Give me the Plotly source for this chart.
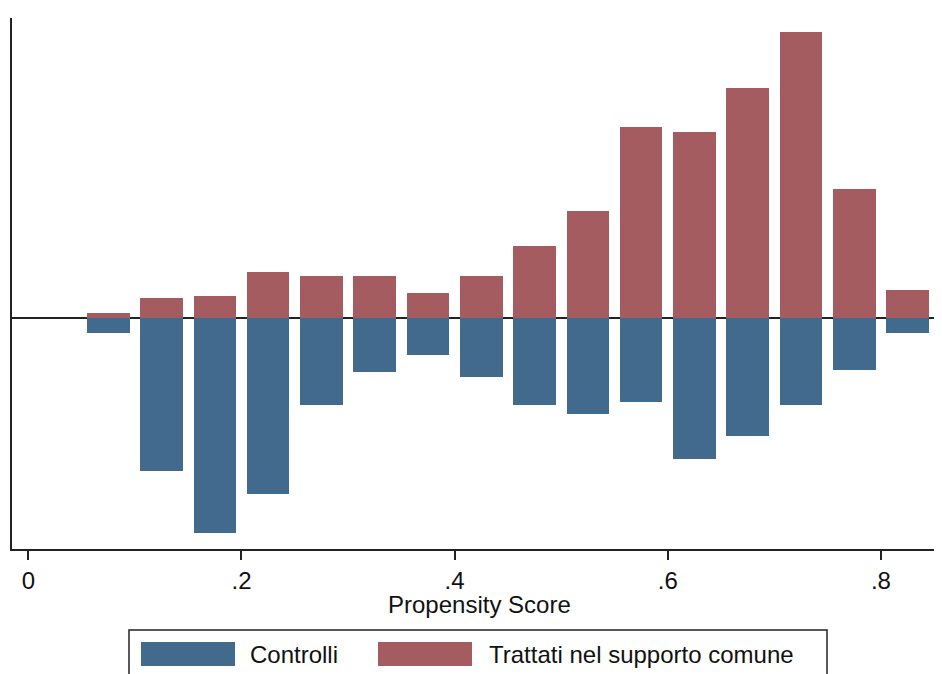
import plotly.graph_objects as go

# Propensity score bins (centres), width 0.05
bin_centers = [0.075, 0.125, 0.175, 0.225, 0.275, 0.325, 0.375, 0.425,
               0.475, 0.525, 0.575, 0.625, 0.675, 0.725, 0.775, 0.825]
# Density of treated units on common support (plotted upward)
trattati = [0.070, 0.273, 0.304, 0.632, 0.574, 0.574, 0.341, 0.574,
            0.980, 1.449, 2.588, 2.516, 3.119, 3.868, 1.754, 0.376]
# Density of controls (plotted downward)
controlli = [0.200, 2.070, 2.903, 2.372, 1.173, 0.732, 0.497, 0.795,
             1.173, 1.300, 1.128, 1.903, 1.597, 1.173, 0.700, 0.200]
x_ticks = [0, 0.2, 0.4, 0.6, 0.8]
x_tick_labels = ["0", ".2", ".4", ".6", ".8"]
legend_labels = ["Controlli", "Trattati nel supporto comune"]
x_title = "Propensity Score"

BLUE = "#426A8C"
RED = "#A55C60"
FONT = "Liberation Sans, Arial, sans-serif"

OFF = 8  # default page body margin
W, H = 942 - OFF, 674 - OFF
L, R, T, B = 12 - OFF, 0, 18 - OFF, 125
pw, ph = W - L - R, H - T - B


def px(xp):
    return (xp - OFF - L) / pw


def py(yp):
    return (H - B - (yp - OFF)) / ph


fig = go.Figure()
fig.add_trace(go.Bar(x=bin_centers, y=[-v for v in controlli], width=0.04,
                     marker=dict(color=BLUE, line=dict(width=0)),
                     name=legend_labels[0], showlegend=False))
fig.add_trace(go.Bar(x=bin_centers, y=trattati, width=0.04,
                     marker=dict(color=RED, line=dict(width=0)),
                     name=legend_labels[1], showlegend=False))

# custom legend box
shapes = [
    dict(type="rect", xref="paper", yref="paper",
         x0=px(129), x1=px(827), y0=py(680), y1=py(630),
         line=dict(color="#222", width=1.5), fillcolor="white", layer="below"),
    dict(type="rect", xref="paper", yref="paper",
         x0=px(141), x1=px(235), y0=py(666), y1=py(642),
         line=dict(width=0), fillcolor=BLUE),
    dict(type="rect", xref="paper", yref="paper",
         x0=px(378), x1=px(472), y0=py(666), y1=py(642),
         line=dict(width=0), fillcolor=RED),
]
annotations = [
    dict(xref="paper", yref="paper", x=px(248), y=py(654), text=legend_labels[0],
         showarrow=False, xanchor="left", yanchor="middle",
         font=dict(family=FONT, size=24, color="#111")),
    dict(xref="paper", yref="paper", x=px(487), y=py(654), text=legend_labels[1],
         showarrow=False, xanchor="left", yanchor="middle",
         font=dict(family=FONT, size=24, color="#111")),
    dict(xref="paper", yref="paper", x=px(479), y=py(604), text=x_title,
         showarrow=False, xanchor="center", yanchor="middle",
         font=dict(family=FONT, size=24, color="#111")),
]

fig.update_layout(
    width=W, height=H,
    margin=dict(l=L, r=R, t=T, b=B),
    paper_bgcolor="white", plot_bgcolor="white",
    barmode="relative",
    bargap=0,
    showlegend=False,
    shapes=shapes,
    annotations=annotations,
    font=dict(family=FONT, size=24, color="#111"),
)
fig.update_xaxes(
    range=[-0.0153, 0.8573],
    tickmode="array", tickvals=x_ticks, ticktext=x_tick_labels,
    ticks="outside", ticklen=9, tickwidth=1.5, tickcolor="#222",
    showline=True, linecolor="#222", linewidth=1.5,
    showgrid=False, zeroline=False,
    tickfont=dict(family=FONT, size=24, color="#111"),
)
fig.update_yaxes(
    range=[-3.12, 4.06],
    showticklabels=False, ticks="",
    showline=True, linecolor="#222", linewidth=1.5,
    showgrid=False,
    zeroline=True, zerolinecolor="#222", zerolinewidth=1.5,
)

fig.write_html("out.html")
